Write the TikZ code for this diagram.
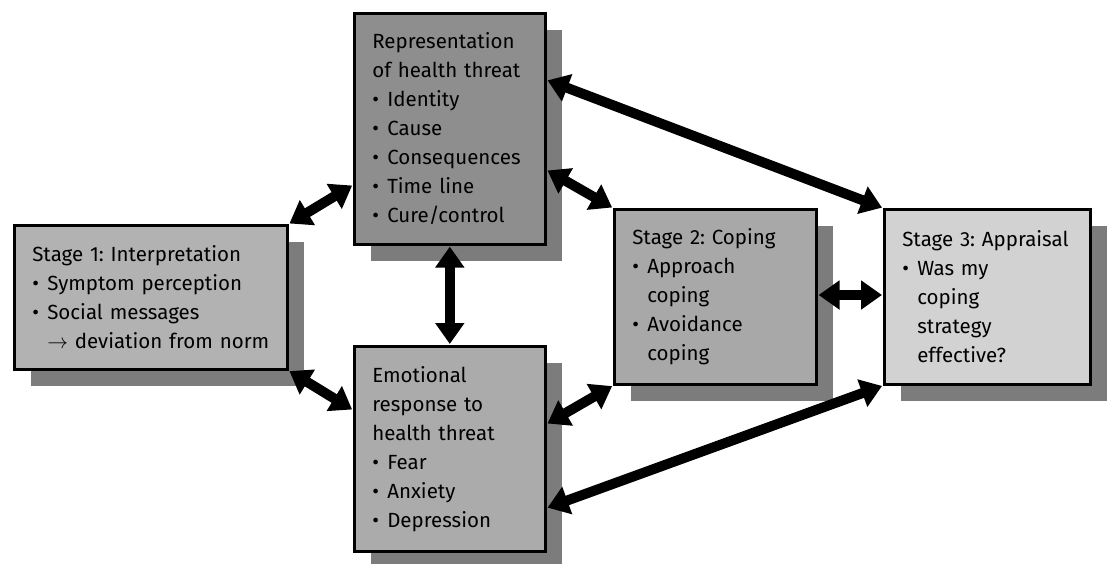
\documentclass[tikz,border=0pt]{standalone}
\usepackage{fontspec}
\setmainfont{Fira Sans}
\usetikzlibrary{arrows.meta,shadows}

\definecolor{boxA}{HTML}{B2B2B2}
\definecolor{boxB}{HTML}{8E8E8E}
\definecolor{boxC}{HTML}{ABABAB}
\definecolor{boxD}{HTML}{A8A8A8}
\definecolor{boxE}{HTML}{D2D2D2}
\definecolor{shade}{HTML}{7C7C7C}

% bullet item and continuation line with a hanging indent
\newcommand{\itm}{\makebox[15pt][l]{\textbullet}}
\newcommand{\cnt}{\hspace*{15pt}}

\tikzset{
  stagebox/.style={draw=black, line width=2.6pt, rectangle, anchor=north west,
    inner xsep=18pt, inner ysep=0pt, align=left,
    font=\fontsize{20.5}{29}\selectfont\frenchspacing,
    drop shadow={shadow xshift=17pt, shadow yshift=-17pt, fill=shade, opacity=1}},
  link/.style={line width=10pt, {Triangle[width=28pt,length=21pt]}-{Triangle[width=28pt,length=21pt]}, shorten <=1pt, shorten >=1pt}
}

\begin{document}
\begin{tikzpicture}[x=1pt,y=-1pt]
\useasboundingbox (0,0) rectangle (1109,563);

\node[stagebox, fill=boxA, minimum width=273pt, minimum height=144pt, text width=237pt] (s1) at (13,224)
  {Stage 1: Interpretation\\
   \itm Symptom perception\\
   \itm Social messages\\
   \cnt $\rightarrow$ deviation from norm};

\node[stagebox, fill=boxB, minimum width=191pt, minimum height=231pt, text width=155pt] (rep) at (353,12)
  {Representation\\
   of health threat\\
   \itm Identity\\
   \itm Cause\\
   \itm Consequences\\
   \itm Time line\\
   \itm Cure/control};

\node[stagebox, fill=boxC, minimum width=191pt, minimum height=205pt, text width=155pt] (emo) at (353,345)
  {Emotional\\
   response to\\
   health threat\\
   \itm Fear\\
   \itm Anxiety\\
   \itm Depression};

\node[stagebox, fill=boxD, minimum width=202pt, minimum height=175pt, text width=166pt] (s2) at (613,208)
  {Stage 2: Coping\\
   \itm Approach\\
   \cnt coping\\
   \itm Avoidance\\
   \cnt coping};

\node[stagebox, fill=boxE, minimum width=206pt, minimum height=175pt, text width=170pt] (s3) at (883,208)
  {Stage 3: Appraisal\\
   \itm Was my\\
   \cnt coping\\
   \cnt strategy\\
   \cnt effective?};

% two-way links between the stages
\draw[link] (s1.north east) -- (rep.west |- 0,185);
\draw[link] (s1.south east) -- (rep.west |- 0,410);
\draw[link] (rep.south) -- (emo.north);
\draw[link] (rep.east |- 0,170) -- (s2.north west);
\draw[link] (rep.east |- 0,80) -- (s3.north west);
\draw[link] (emo.east |- 0,424) -- (s2.south west);
\draw[link] (emo.east |- 0,508) -- (s3.south west);
\draw[link] (s2.east |- 0,295) -- (s3.west |- 0,295);
\end{tikzpicture}
\end{document}
